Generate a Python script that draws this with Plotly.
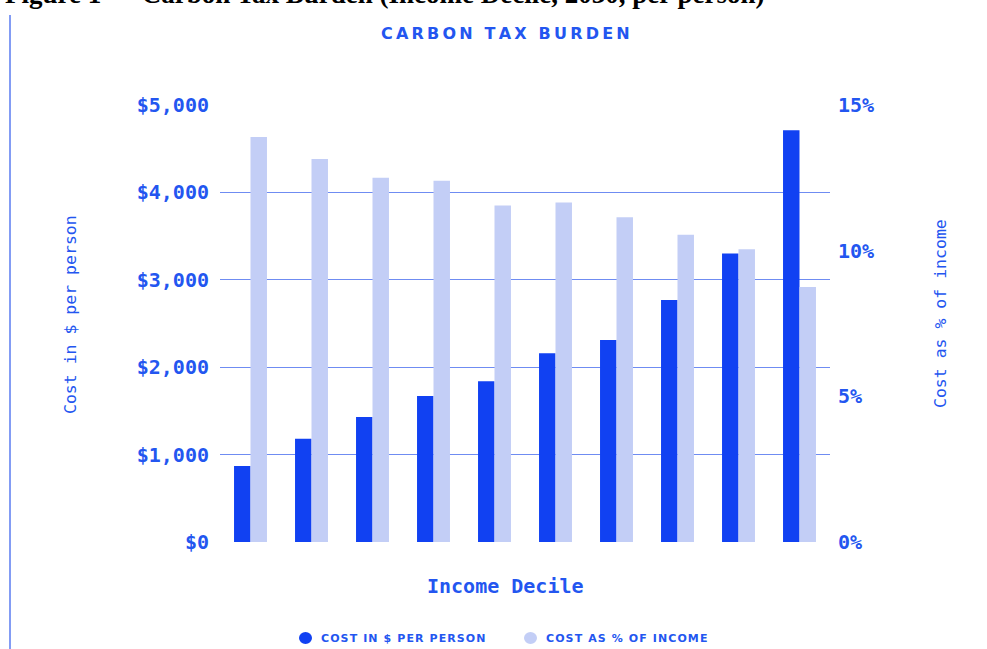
import plotly.graph_objects as go

deciles = ["1", "2", "3", "4", "5", "6", "7", "8", "9", "10"]
cost_dollars = [870, 1180, 1430, 1670, 1840, 2160, 2310, 2770, 3300, 4710]
cost_pct = [13.9, 13.15, 12.5, 12.4, 11.55, 11.65, 11.15, 10.55, 10.05, 8.75]
left_ticks = [0, 1000, 2000, 3000, 4000, 5000]
left_labels = ["$0", "$1,000", "$2,000", "$3,000", "$4,000", "$5,000"]
right_ticks = [0, 5, 10, 15]
right_labels = ["0%", "5%", "10%", "15%"]

DARK = "#1141F2"
LIGHT = "#C3CEF6"
TXT = "#2356F0"
GRID = "#6F8CF2"
MONO = "DejaVu Sans Mono"
TS = "\u2009"  # thin space for letter spacing

W, H = 987, 649
L, R, T, B = 220, 830, 105, 542


def spaced(s, sep=TS):
    return sep.join(list(s))


fig = go.Figure()
fig.add_trace(go.Bar(x=deciles, y=cost_dollars, name="COST IN $ PER PERSON",
                     marker=dict(color=DARK, line=dict(width=0)),
                     offsetgroup="a", yaxis="y", showlegend=False))
fig.add_trace(go.Bar(x=deciles, y=cost_pct, name="COST AS % OF INCOME",
                     marker=dict(color=LIGHT, line=dict(width=0)),
                     offsetgroup="b", yaxis="y2", showlegend=False))

fig.update_layout(
    width=W, height=H,
    margin=dict(l=L, r=W - R, t=T, b=H - B, pad=0),
    paper_bgcolor="white", plot_bgcolor="white",
    barmode="group", bargap=0.46, bargroupgap=0,
    showlegend=False,
    xaxis=dict(showticklabels=False, showgrid=False, zeroline=False, showline=False, ticks=""),
    yaxis=dict(range=[0, 5000], tickvals=left_ticks, ticktext=left_labels,
               showgrid=True, gridcolor=GRID, gridwidth=1.3, zeroline=False,
               tickfont=dict(family=MONO, size=20, color=TXT, weight="bold"), ticks="",
               ticklabelstandoff=10),
    yaxis2=dict(range=[0, 15], tickvals=right_ticks, ticktext=right_labels, overlaying="y",
                side="right", showgrid=False, zeroline=False,
                tickfont=dict(family=MONO, size=20, color=TXT, weight="bold"), ticks="",
                ticklabelstandoff=7),
)


def px_x(p):
    return (p - L) / (R - L)


def px_y(p):
    return (B - p) / (B - T)


ann = []
ann.append(dict(text="<b>" + spaced("CARBON TAX BURDEN") + "</b>", x=px_x(505), y=px_y(33),
                xref="paper", yref="paper", showarrow=False,
                font=dict(family="DejaVu Sans", size=16, color=TXT), xanchor="center", yanchor="middle"))
ann.append(dict(text="Cost in $ per person", x=px_x(70), y=px_y(315), xref="paper", yref="paper",
                textangle=-90, showarrow=False, font=dict(family=MONO, size=16.5, color=TXT),
                xanchor="center", yanchor="middle"))
ann.append(dict(text="Cost as % of income", x=px_x(940), y=px_y(314), xref="paper", yref="paper",
                textangle=-90, showarrow=False, font=dict(family=MONO, size=16.5, color=TXT),
                xanchor="center", yanchor="middle"))
ann.append(dict(text="<b>Income Decile</b>", x=px_x(505), y=px_y(586), xref="paper", yref="paper",
                showarrow=False, font=dict(family=MONO, size=20, color=TXT),
                xanchor="center", yanchor="middle"))
ann.append(dict(text="<b>Figure 1 — Carbon Tax Burden (Income Decile, 2030, per person)</b>",
                x=px_x(3), y=px_y(11), xref="paper", yref="paper", showarrow=False,
                font=dict(family="Liberation Serif", size=27, color="black"),
                xanchor="left", yanchor="bottom"))
# legend (manual, circular markers)
ann.append(dict(text="<b>" + spaced("COST IN $ PER PERSON", "\u200a") + "</b>", x=px_x(319), y=px_y(638),
                xref="paper", yref="paper", showarrow=False,
                font=dict(family="DejaVu Sans", size=11, color=TXT), xanchor="left", yanchor="middle"))
ann.append(dict(text="<b>" + spaced("COST AS % OF INCOME", "\u200a") + "</b>", x=px_x(544), y=px_y(638),
                xref="paper", yref="paper", showarrow=False,
                font=dict(family="DejaVu Sans", size=11, color=TXT), xanchor="left", yanchor="middle"))
fig.update_layout(annotations=ann)

shapes = []
shapes.append(dict(type="line", xref="paper", yref="paper", x0=px_x(10), x1=px_x(10), y0=px_y(15),
                   y1=px_y(649), line=dict(color="#5A7BF0", width=1.5)))
shapes.append(dict(type="circle", xref="paper", yref="paper", x0=px_x(299), x1=px_x(312), y0=px_y(644),
                   y1=px_y(632), fillcolor=DARK, line=dict(width=0)))
shapes.append(dict(type="circle", xref="paper", yref="paper", x0=px_x(524), x1=px_x(537), y0=px_y(644),
                   y1=px_y(632), fillcolor=LIGHT, line=dict(width=0)))
fig.update_layout(shapes=shapes)

fig.write_html("out.html", config={"displayModeBar": False},
               post_script="document.body.style.margin='0';")
